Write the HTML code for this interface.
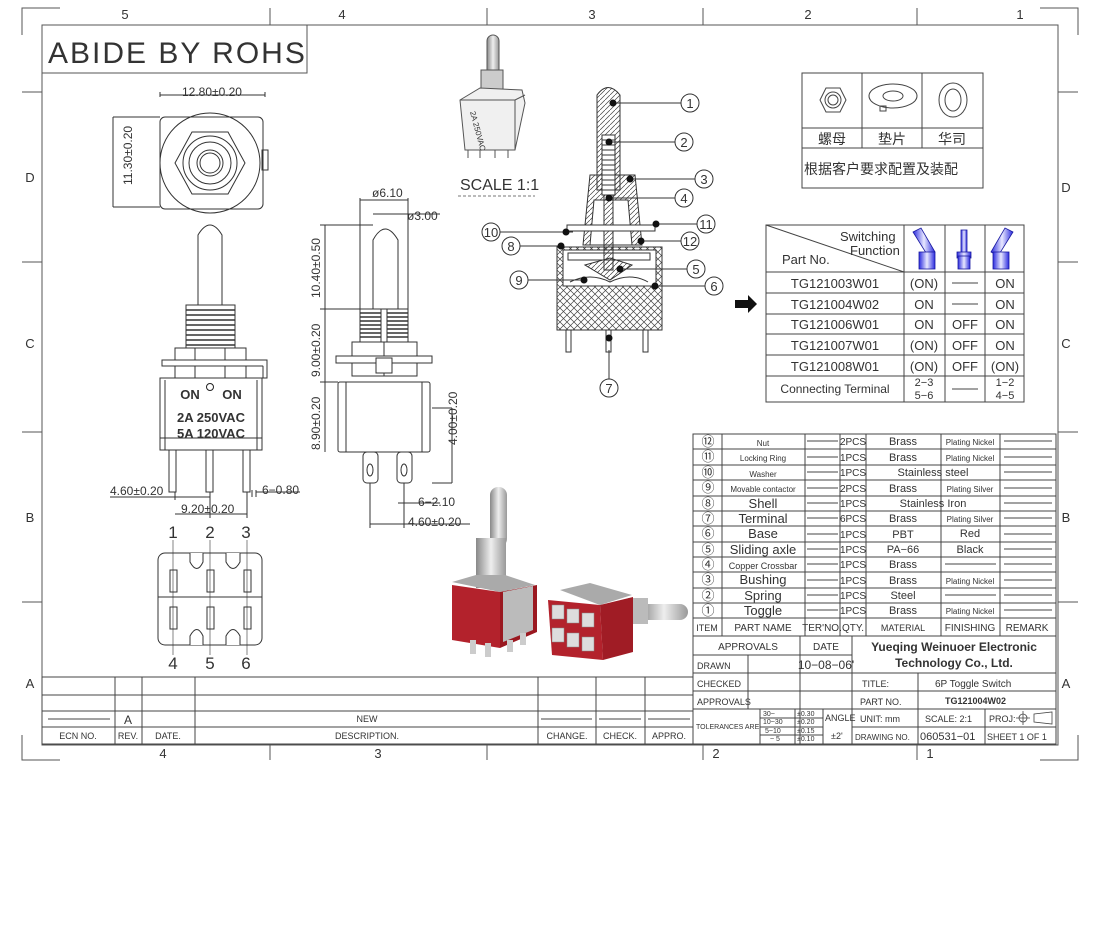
<!DOCTYPE html>
<html><head><meta charset="utf-8"><style>
html,body{margin:0;padding:0;background:#fff;}
svg{display:block;}
text{font-family:"Liberation Sans","Noto Sans CJK SC",sans-serif;fill:#333;}
</style></head><body>
<svg width="1100" height="949" viewBox="0 0 1100 949" xmlns="http://www.w3.org/2000/svg">
<defs>
<pattern id="xh" width="7" height="7" patternUnits="userSpaceOnUse"><path d="M0 0L7 7M7 0L0 7" stroke="#444" stroke-width="0.7"/></pattern>
<pattern id="dh" width="5" height="5" patternUnits="userSpaceOnUse"><path d="M0 5L5 0" stroke="#444" stroke-width="0.7"/></pattern>
<linearGradient id="tg" x1="0" x2="1"><stop offset="0" stop-color="#2a2adf"/><stop offset="0.5" stop-color="#e8e8ff"/><stop offset="1" stop-color="#2a2adf"/></linearGradient>
<linearGradient id="sv" x1="0" x2="1"><stop offset="0" stop-color="#888"/><stop offset="0.5" stop-color="#eee"/><stop offset="1" stop-color="#999"/></linearGradient>
</defs>
<g fill="none" stroke="#555" stroke-width="1">
<!-- outer corners & ticks -->
<path d="M22 35V8H60M1040 8H1078V35M22 735V760H60M1040 760H1078V735"/>
<path d="M270 8V25M487 8V25M703 8V25M917 8V25"/>
<path d="M270 745V760M487 745V760M703 745V760M917 745V760"/>
<path d="M22 92H42M22 262H42M22 432H42M22 602H42"/>
<path d="M1058 92H1078M1058 262H1078M1058 432H1078M1058 602H1078"/>
<rect x="42" y="25" width="1016" height="720"/>
<rect x="42" y="25" width="265" height="48"/>
</g>
<g font-size="13" text-anchor="middle">
<text x="125" y="19">5</text><text x="342" y="19">4</text><text x="592" y="19">3</text><text x="808" y="19">2</text><text x="1020" y="19">1</text>
<text x="163" y="758">4</text><text x="378" y="758">3</text><text x="716" y="758">2</text><text x="930" y="758">1</text>
<text x="30" y="182">D</text><text x="30" y="348">C</text><text x="30" y="522">B</text><text x="30" y="688">A</text>
<text x="1066" y="192">D</text><text x="1066" y="348">C</text><text x="1066" y="522">B</text><text x="1066" y="688">A</text>
</g>
<text x="48" y="63" font-size="30" fill="#444" style="letter-spacing:2px">ABIDE  BY  ROHS</text>

<!-- top view -->
<g fill="none" stroke="#333" stroke-width="1">
<path d="M160 92V97M265 92V97M160 95H265"/>
<text x="212" y="96" font-size="12" stroke="none" text-anchor="middle">12.80±0.20</text>
<path d="M113 117V207M113 117H160M113 207H160"/>
<rect x="160" y="117" width="103" height="92" rx="5"/>
<circle cx="210" cy="163" r="50"/>
<polygon points="175,163 192,132 228,132 245,163 228,194 192,194"/>
<circle cx="210" cy="163" r="27"/><circle cx="210" cy="163" r="21"/><circle cx="210" cy="163" r="13"/><circle cx="210" cy="163" r="10"/>
<rect x="262" y="150" width="6" height="20"/>
</g>
<text x="0" y="0" font-size="12" transform="translate(132 185) rotate(-90)">11.30±0.20</text>

<!-- front view -->
<g fill="#fff" stroke="#333" stroke-width="1">
<path d="M198 305V235Q210 215 222 235V305"/>
<rect x="186" y="305" width="49" height="45"/>
<path d="M186 310H235M186 315H235M186 320H235M186 325H235M186 330H235M186 335H235M186 340H235M186 345H235" stroke-width="1.5"/>
<rect x="175" y="348" width="71" height="12"/><path d="M195 348V360M225 348V360"/>
<rect x="162" y="360" width="105" height="6"/><path d="M263 366V378H267V360"/>
<rect x="175" y="366" width="71" height="13"/><path d="M195 366V379M225 366V379"/>
<rect x="160" y="378" width="102" height="72"/>
<path d="M165 380V450M257 380V450M160 438H262"/>
<rect x="169" y="450" width="7" height="42"/><rect x="206" y="450" width="7" height="42"/><rect x="243" y="450" width="7" height="42"/>
</g>
<g font-size="13" font-weight="bold" text-anchor="middle" fill="#222">
<text x="190" y="399" fill="#222">ON</text><text x="232" y="399" fill="#222">ON</text>
<text x="211" y="422" fill="#222">2A 250VAC</text><text x="211" y="438" fill="#222">5A 120VAC</text>
</g>
<circle cx="210" cy="387" r="3.5" fill="none" stroke="#222"/>
<g fill="none" stroke="#333"><path d="M175 492V500M210 492V518M247 492V518M110 497H210M175 514H247M252 490V497M256 490V497M256 492H300"/></g>
<text x="110" y="495" font-size="12">4.60±0.20</text><text x="262" y="494" font-size="12">6−0.80</text>
<text x="181" y="513" font-size="12">9.20±0.20</text>

<!-- side view -->
<g fill="#fff" stroke="#333" stroke-width="1">
<path d="M373 309V240Q385 218 398 240V309"/>
<rect x="360" y="309" width="48" height="34"/>
<path d="M360 313H408M360 317H408M360 321H408M360 325H408M360 329H408M360 333H408M360 337H408" stroke-width="1.5"/>
<rect x="381" y="309" width="6" height="34"/>
<rect x="352" y="342" width="65" height="34"/><path d="M384 342V376M352 358H417"/>
<rect x="336" y="356" width="96" height="7"/><rect x="376" y="358" width="16" height="15"/>
<rect x="338" y="382" width="92" height="70" rx="2"/><path d="M346 382V452M422 382V452"/>
<rect x="363" y="452" width="15" height="31" rx="4"/><rect x="397" y="452" width="15" height="31" rx="4"/>
<ellipse cx="370" cy="470" rx="3" ry="6"/><ellipse cx="404" cy="470" rx="3" ry="6"/>
</g>
<g fill="none" stroke="#333"><path d="M360 198V309M408 198V309M360 200H408M373 214H398M398 214H440M325 225V452M320 225H373M320 309H360M320 382H338M432 408H452M452 408V483M432 483H452M404 483V528M370 483V528M398 503H440M370 524H470M404 503V512"/></g>
<text x="372" y="197" font-size="12">ø6.10</text><text x="407" y="220" font-size="12">ø3.00</text>
<text font-size="12" transform="translate(320 298) rotate(-90)">10.40±0.50</text>
<text font-size="12" transform="translate(320 377) rotate(-90)">9.00±0.20</text>
<text font-size="12" transform="translate(320 450) rotate(-90)">8.90±0.20</text>
<text font-size="12" transform="translate(457 445) rotate(-90)">4.00±0.20</text>
<text x="418" y="506" font-size="12">6−2.10</text><text x="408" y="526" font-size="12">4.60±0.20</text>

<!-- bottom view -->
<g fill="#fff" stroke="#333" stroke-width="1">
<rect x="158" y="553" width="104" height="92" rx="7"/>
<path d="M158 597H262M172 553H250M172 645H250"/>
<path d="M190 553V562Q197 575 203 562V553M226 553V562Q233 575 240 562V553M190 645V636Q197 623 203 636V645M226 645V636Q233 623 240 636V645"/>
<rect x="170" y="570" width="7" height="22"/><rect x="207" y="570" width="7" height="22"/><rect x="244" y="570" width="7" height="22"/>
<rect x="170" y="607" width="7" height="22"/><rect x="207" y="607" width="7" height="22"/><rect x="244" y="607" width="7" height="22"/>
<path d="M173 540V655M210 540V655M247 540V655" stroke-width="0.6"/>
</g>
<g font-size="17" text-anchor="middle" fill="#444"><text x="173" y="538">1</text><text x="210" y="538">2</text><text x="246" y="538">3</text><text x="173" y="669">4</text><text x="210" y="669">5</text><text x="246" y="669">6</text></g>

<!-- small photo top -->
<g stroke="#555" stroke-width="1">
<rect x="487" y="35" width="12" height="55" rx="6" fill="url(#sv)"/>
<rect x="481" y="70" width="22" height="22" fill="#ccc"/>
<polygon points="460,100 480,88 522,90 525,103 515,150 465,150" fill="#f0f0f0"/>
<path d="M460 100H515V150M515 100L525 95" fill="none"/>
<path d="M468 150V158M480 150V158M495 150V158M508 150V158" />
</g>
<text font-size="8" transform="translate(470 112) rotate(75)">2A 250VAC</text>
<text x="460" y="190" font-size="16" fill="#555">SCALE 1:1</text>
<path d="M458 196H535" stroke="#777" stroke-dasharray="3 2"/>

<!-- section view -->
<g stroke="#333" stroke-width="1">
<rect x="557" y="247" width="105" height="83" fill="url(#xh)"/>
<rect x="563" y="250" width="93" height="36" fill="#fff"/>
<rect x="568" y="253" width="82" height="7" fill="#fff"/>
<path d="M583 245L590 175H635L642 245Z" fill="url(#dh)"/>
<path d="M590 245L594 200H628L632 245Z" fill="#fff"/>
<path d="M597 95Q608 80 620 95V190H597Z" fill="url(#dh)"/>
<rect x="602" y="135" width="13" height="60" fill="#fff"/>
<path d="M602 140H615M602 145H615M602 150H615M602 155H615M602 160H615M602 165H615M602 170H615M602 175H615M602 180H615M602 185H615M602 190H615"/>
<rect x="604" y="195" width="9" height="75" fill="url(#dh)"/>
<path d="M585 265L610 258L632 265L610 280Z" fill="url(#dh)"/>
<path d="M570 282Q590 272 610 282Q630 272 648 282" fill="none"/>
<rect x="567" y="225" width="88" height="6" fill="#fff"/>
<rect x="566" y="330" width="5" height="22" fill="#fff"/><rect x="606" y="330" width="5" height="22" fill="#fff"/><rect x="643" y="330" width="5" height="22" fill="#fff"/>
</g>
<g stroke="#333" fill="none">
<path d="M615 103H681M610 142H675M632 179H695M610 198H675M656 224H697M641 241H681M573 232H500M564 246H520M620 269H687M582 280H528M656 286H705M609 350V379"/>
<circle cx="690" cy="103" r="9"/><circle cx="684" cy="142" r="9"/><circle cx="704" cy="179" r="9"/><circle cx="684" cy="198" r="9"/><circle cx="706" cy="224" r="9"/><circle cx="690" cy="241" r="9"/><circle cx="491" cy="232" r="9"/><circle cx="511" cy="246" r="9"/><circle cx="696" cy="269" r="9"/><circle cx="519" cy="280" r="9"/><circle cx="714" cy="286" r="9"/><circle cx="609" cy="388" r="9"/>
</g>
<g fill="#111"><circle cx="613" cy="103" r="3.5"/><circle cx="609" cy="142" r="3.5"/><circle cx="630" cy="179" r="3.5"/><circle cx="609" cy="198" r="3.5"/><circle cx="656" cy="224" r="3.5"/><circle cx="641" cy="241" r="3.5"/><circle cx="566" cy="232" r="3.5"/><circle cx="561" cy="246" r="3.5"/><circle cx="620" cy="269" r="3.5"/><circle cx="584" cy="280" r="3.5"/><circle cx="655" cy="286" r="3.5"/><circle cx="609" cy="338" r="3.5"/></g>
<g font-size="13" text-anchor="middle" fill="#444"><text x="690" y="108">1</text><text x="684" y="147">2</text><text x="704" y="184">3</text><text x="684" y="203">4</text><text x="706" y="229">11</text><text x="690" y="246">12</text><text x="491" y="237">10</text><text x="511" y="251">8</text><text x="696" y="274">5</text><text x="519" y="285">9</text><text x="714" y="291">6</text><text x="609" y="393">7</text></g>

<!-- product photo -->
<g>
<rect x="490" y="487" width="17" height="60" rx="8" fill="url(#sv)"/>
<rect x="476" y="538" width="30" height="50" fill="url(#sv)"/>
<polygon points="452,582 476,575 505,575 535,585 500,592" fill="#aaa"/>
<polygon points="452,585 500,592 500,648 452,640" fill="#b3222c"/>
<polygon points="500,592 537,585 537,632 500,648" fill="#9a1820"/>
<polygon points="503,592 533,586 533,630 503,642" fill="#bbb"/>
<rect x="470" y="640" width="6" height="14" fill="#ccc"/><rect x="485" y="643" width="6" height="14" fill="#ccc"/><rect x="507" y="640" width="6" height="12" fill="#ccc"/><rect x="520" y="633" width="6" height="12" fill="#ccc"/>
<rect x="640" y="604" width="48" height="16" rx="8" fill="url(#sv)"/>
<rect x="628" y="598" width="20" height="26" fill="#bbb"/>
<polygon points="560,590 590,583 632,595 600,605" fill="#aaa"/>
<polygon points="548,600 600,605 603,660 552,655" fill="#b3222c"/>
<polygon points="600,605 633,597 633,652 603,660" fill="#a01c25"/>
<g fill="#ddd" stroke="#888" stroke-width="0.5"><rect x="552" y="605" width="12" height="14"/><rect x="567" y="609" width="12" height="14"/><rect x="582" y="613" width="12" height="14"/><rect x="552" y="628" width="12" height="14"/><rect x="567" y="633" width="12" height="14"/><rect x="582" y="637" width="12" height="14"/></g>
</g>

<!-- hardware box -->
<g fill="none" stroke="#444">
<rect x="802" y="73" width="181" height="115"/>
<path d="M802 128H983M802 148H983M862 73V148M922 73V148"/>
<polygon points="820,100 826,88 840,88 846,100 840,112 826,112"/><circle cx="833" cy="100" r="8"/><circle cx="833" cy="100" r="5"/>
<ellipse cx="893" cy="96" rx="24" ry="12"/><ellipse cx="893" cy="96" rx="10" ry="5"/><rect x="880" y="106" width="6" height="5"/>
<ellipse cx="953" cy="100" rx="14" ry="17"/><ellipse cx="953" cy="100" rx="8" ry="11"/>
</g>
<g font-size="14" text-anchor="middle" fill="#222"><text x="832" y="144">螺母</text><text x="892" y="144">垫片</text><text x="952" y="144">华司</text></g>
<text x="804" y="174" font-size="14" fill="#222">根据客户要求配置及装配</text>

<!-- switching table -->
<g fill="none" stroke="#444">
<rect x="766" y="225" width="258" height="177"/>
<path d="M766 272H1024M766 293H1024M766 314H1024M766 334H1024M766 355H1024M766 376H1024M904 225V402M945 225V402M985 225V402M766 225L904 272"/>
</g>
<g stroke="#1a1aa0" stroke-width="0.8">
<path d="M913 232L921 228L935 252L928 256Z" fill="url(#tg)"/><rect x="919" y="252" width="16" height="17" fill="url(#tg)"/>
<rect x="961" y="230" width="6" height="24" fill="url(#tg)"/><rect x="957" y="252" width="14" height="6" fill="url(#tg)"/><rect x="958" y="256" width="12" height="13" fill="url(#tg)"/>
<path d="M1013 232L1005 228L991 252L998 256Z" fill="url(#tg)"/><rect x="993" y="252" width="16" height="17" fill="url(#tg)"/>
</g>
<g font-size="13" fill="#444"><text x="840" y="241">Switching</text><text x="850" y="255">Function</text><text x="782" y="264">Part  No.</text></g>
<g font-size="13" text-anchor="middle" fill="#444">
<text x="835" y="288">TG121003W01</text><text x="924" y="288">(ON)</text><text x="1005" y="288">ON</text>
<text x="835" y="309">TG121004W02</text><text x="924" y="309">ON</text><text x="1005" y="309">ON</text>
<text x="835" y="329">TG121006W01</text><text x="924" y="329">ON</text><text x="965" y="329">OFF</text><text x="1005" y="329">ON</text>
<text x="835" y="350">TG121007W01</text><text x="924" y="350">(ON)</text><text x="965" y="350">OFF</text><text x="1005" y="350">ON</text>
<text x="835" y="371">TG121008W01</text><text x="924" y="371">(ON)</text><text x="965" y="371">OFF</text><text x="1005" y="371">(ON)</text>
<text x="835" y="393" font-size="12">Connecting  Terminal</text>
<text x="924" y="386" font-size="11">2−3</text><text x="924" y="399" font-size="11">5−6</text><text x="1005" y="386" font-size="11">1−2</text><text x="1005" y="399" font-size="11">4−5</text>
</g>
<path d="M952 283H978M952 304H978M952 389H978" stroke="#444"/>
<polygon points="735,300 748,300 748,295 757,304 748,313 748,308 735,308" fill="#111"/>

<!-- BOM -->
<g fill="none" stroke="#444">
<rect x="693" y="434" width="363" height="310"/>
<path d="M693 449H1056M693 465H1056M693 480H1056M693 496H1056M693 511H1056M693 526H1056M693 542H1056M693 557H1056M693 572H1056M693 588H1056M693 603H1056M693 618H1056M693 636H1056"/>
<path d="M722 434V636M805 434V636M840 434V636M866 434V636M941 434V636M1000 434V636"/>
<path d="M693 655H852M693 673H1056M693 691H1056M693 709H1056M852 727H1056M748 655V709M800 636V744M852 636V744M918 673V744M985 709V744M760 709V744M795 709V744M760 718H823M760 727H823M760 735H823M823 709V744"/>
</g>
<g stroke="#444"><path d="M807 441H838M807 457H838M807 472H838M807 488H838M807 503H838M807 518H838M807 534H838M807 549H838M807 564H838M807 580H838M807 595H838M807 610H838M1004 441H1052M1004 457H1052M1004 472H1052M1004 488H1052M1004 503H1052M1004 518H1052M1004 534H1052M1004 549H1052M1004 564H1052M1004 580H1052M1004 595H1052M1004 610H1052M945 564H996M945 595H996"/></g>
<g font-size="13" text-anchor="middle" fill="#444">
<text x="708" y="446">⑫</text><text x="708" y="461">⑪</text><text x="708" y="477">⑩</text><text x="708" y="492">⑨</text><text x="708" y="508">⑧</text><text x="708" y="523">⑦</text><text x="708" y="538">⑥</text><text x="708" y="554">⑤</text><text x="708" y="569">④</text><text x="708" y="584">③</text><text x="708" y="600">②</text><text x="708" y="615">①</text>
<text x="763" y="446" font-size="8">Nut</text><text x="763" y="461" font-size="8">Locking Ring</text><text x="763" y="477" font-size="8">Washer</text><text x="763" y="492" font-size="8">Movable contactor</text>
<text x="763" y="508">Shell</text><text x="763" y="523">Terminal</text><text x="763" y="538">Base</text><text x="763" y="554">Sliding  axle</text><text x="763" y="569" font-size="9">Copper Crossbar</text><text x="763" y="584">Bushing</text><text x="763" y="600">Spring</text><text x="763" y="615">Toggle</text>
</g>
<g font-size="10" text-anchor="middle" fill="#444">
<text x="853" y="445">2PCS</text><text x="853" y="461">1PCS</text><text x="853" y="476">1PCS</text><text x="853" y="492">2PCS</text><text x="853" y="507">1PCS</text><text x="853" y="522">6PCS</text><text x="853" y="538">1PCS</text><text x="853" y="553">1PCS</text><text x="853" y="568">1PCS</text><text x="853" y="584">1PCS</text><text x="853" y="599">1PCS</text><text x="853" y="614">1PCS</text>
<text x="903" y="445" font-size="11">Brass</text><text x="903" y="461" font-size="11">Brass</text><text x="933" y="476" font-size="11">Stainless  steel</text><text x="903" y="492" font-size="11">Brass</text><text x="933" y="507" font-size="11">Stainless  Iron</text><text x="903" y="522" font-size="11">Brass</text><text x="903" y="538" font-size="11">PBT</text><text x="903" y="553" font-size="11">PA−66</text><text x="903" y="568" font-size="11">Brass</text><text x="903" y="584" font-size="11">Brass</text><text x="903" y="599" font-size="11">Steel</text><text x="903" y="614" font-size="11">Brass</text>
<text x="970" y="445" font-size="8">Plating Nickel</text><text x="970" y="461" font-size="8">Plating Nickel</text><text x="970" y="492" font-size="8">Plating Silver</text><text x="970" y="522" font-size="8">Plating Silver</text><text x="970" y="537" font-size="11">Red</text><text x="970" y="553" font-size="11">Black</text><text x="970" y="584" font-size="8">Plating Nickel</text><text x="970" y="614" font-size="8">Plating Nickel</text>
<text x="707" y="631" font-size="9">ITEM</text><text x="763" y="631">PART NAME</text><text x="822" y="631">TER'NO.</text><text x="853" y="631">QTY.</text><text x="903" y="631" font-size="9">MATERIAL</text><text x="970" y="631">FINISHING</text><text x="1027" y="631">REMARK</text>
<text x="748" y="650">APPROVALS</text><text x="826" y="650">DATE</text>
<text x="826" y="669" font-size="12" font-family="Liberation Serif">10−08−06'</text>
</g>
<g font-size="12" font-weight="bold" text-anchor="middle" fill="#222"><text x="954" y="651" fill="#222">Yueqing Weinuoer Electronic</text><text x="954" y="667" fill="#222">Technology Co., Ltd.</text></g>
<g font-size="9" fill="#444">
<text x="697" y="669">DRAWN</text><text x="697" y="687">CHECKED</text><text x="697" y="705">APPROVALS</text><text x="696" y="729" font-size="7">TOLERANCES ARE</text>
<text x="763" y="716" font-size="7">30~</text><text x="763" y="724" font-size="7">10~30</text><text x="765" y="733" font-size="7">5~10</text><text x="770" y="741" font-size="7">~ 5</text>
<text x="797" y="716" font-size="7">±0.30</text><text x="797" y="724" font-size="7">±0.20</text><text x="797" y="733" font-size="7">±0.15</text><text x="797" y="741" font-size="7">±0.10</text>
<text x="825" y="721">ANGLE</text><text x="831" y="739">±2'</text>
<text x="862" y="687">TITLE:</text><text x="860" y="705">PART NO.</text><text x="860" y="722">UNIT: mm</text><text x="855" y="740" font-size="8">DRAWING NO.</text>
<text x="935" y="687" font-size="10">6P Toggle Switch</text><text x="945" y="704" font-weight="bold">TG121004W02</text>
<text x="925" y="722">SCALE: 2:1</text><text x="989" y="722">PROJ:</text>
<text x="920" y="740" font-size="11">060531−01</text><text x="987" y="740">SHEET  1 OF 1</text>
</g>
<g fill="none" stroke="#444" stroke-width="0.8"><circle cx="1023" cy="718" r="4"/><path d="M1016 718H1030M1023 711V725M1034 714L1052 712V724L1034 722Z"/></g>

<!-- revision block -->
<g fill="none" stroke="#444">
<rect x="42" y="677" width="651" height="67"/>
<path d="M42 695H693M42 711H693M42 727H693M115 677V744M142 677V744M195 677V744M538 677V744M596 677V744M645 677V744M48 719H110M541 719H592M599 719H641M648 719H690"/>
</g>
<g font-size="9" text-anchor="middle" fill="#444">
<text x="128" y="724" font-size="12">A</text><text x="367" y="722">NEW</text>
<text x="78" y="739">ECN NO.</text><text x="128" y="739">REV.</text><text x="168" y="739">DATE.</text><text x="367" y="739">DESCRIPTION.</text><text x="567" y="739">CHANGE.</text><text x="620" y="739">CHECK.</text><text x="669" y="739">APPRO.</text>
</g>
</svg>
</body></html>
